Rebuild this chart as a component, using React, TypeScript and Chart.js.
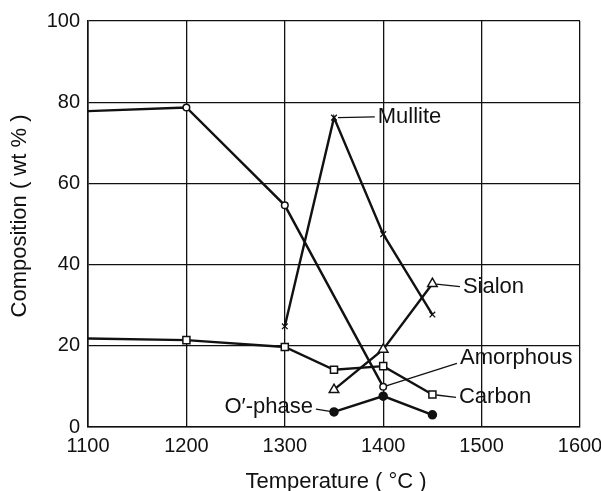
import { useEffect, useRef } from "react";
import { Chart, registerables } from "chart.js";

Chart.register(...registerables);

// ---- data ----
const amorphousTemps = [1100, 1200, 1300, 1400];
const amorphousValues = [77.8, 78.7, 54.6, 9.9];

const mulliteTemps = [1300, 1350, 1400, 1450];
const mulliteValues = [24.8, 76.2, 47.5, 27.7];

const sialonTemps = [1350, 1400, 1450];
const sialonValues = [9.2, 19.1, 35.3];

const carbonTemps = [1100, 1200, 1300, 1350, 1400, 1450];
const carbonValues = [21.8, 21.4, 19.7, 14.1, 15.0, 8.0];

const oPhaseTemps = [1350, 1400, 1450];
const oPhaseValues = [3.7, 7.6, 3.0];

const xTickValues = [1100, 1200, 1300, 1400, 1500, 1600];
const yTickValues = [0, 20, 40, 60, 80, 100];

const xTitle = "Temperature ( °C )";
const yTitle = "Composition ( wt % )";

const FONT = "'Liberation Sans', Arial, Helvetica, sans-serif";
const INK = "#111";

const toPoints = (xs: number[], ys: number[]) => xs.map((x, i) => ({ x, y: ys[i] }));

// label annotations: anchored on a data point of a dataset, text at data coords
const annotations = [
  { text: "Mullite", ds: 1, idx: 1, tx: 1394.5, ty: 76.4, side: "left", dy: 0 },
  { text: "Sialon", ds: 2, idx: 2, tx: 1481, ty: 34.6, side: "left", dy: 0 },
  { text: "Amorphous", ds: 0, idx: 3, tx: 1478, ty: 16.9, side: "left", dy: 5 },
  { text: "Carbon", ds: 3, idx: 5, tx: 1477, ty: 7.3, side: "left", dy: 0 },
  { text: "O\u2032-phase", ds: 4, idx: 0, tx: 1328.6, ty: 4.9, side: "right", dy: 2 },
];

const annotationPlugin = {
  id: "leaderLabels",
  afterDatasetsDraw(chart: any) {
    const { ctx, scales } = chart;
    const xs = scales.x;
    const ys = scales.y;
    ctx.save();
    ctx.font = `22px ${FONT}`;
    ctx.fillStyle = INK;
    ctx.strokeStyle = INK;
    ctx.lineWidth = 1.3;
    ctx.textBaseline = "middle";
    for (const a of annotations) {
      const el = chart.getDatasetMeta(a.ds).data[a.idx];
      const px = el.x;
      const py = el.y;
      const tx = xs.getPixelForValue(a.tx);
      const ty = ys.getPixelForValue(a.ty);
      const endX = a.side === "left" ? tx - 3 : tx + 3;
      const endY = ty + a.dy;
      const dx = endX - px;
      const dyy = endY - py;
      const len = Math.hypot(dx, dyy) || 1;
      const gap = 4;
      ctx.beginPath();
      ctx.moveTo(px + (dx / len) * gap, py + (dyy / len) * gap);
      ctx.lineTo(endX, endY);
      ctx.stroke();
      ctx.textAlign = a.side === "left" ? "left" : "right";
      ctx.fillText(a.text, tx, ty);
    }
    ctx.restore();
  },
};

const titlePlugin = {
  id: "axisTitles",
  afterDraw(chart: any) {
    const { ctx, chartArea } = chart;
    ctx.save();
    ctx.font = `22px ${FONT}`;
    ctx.fillStyle = INK;
    ctx.textAlign = "center";
    ctx.textBaseline = "middle";
    ctx.fillText(xTitle, (chartArea.left + chartArea.right) / 2 + 2, 482);
    ctx.translate(20, (chartArea.top + chartArea.bottom) / 2 - 8);
    ctx.rotate(-Math.PI / 2);
    ctx.fillText(yTitle, 0, 0);
    ctx.restore();
  },
};

const hideFirst = (r: number) => (c: any) => (c.dataIndex === 0 ? 0 : r);

export default function App() {
  const ref = useRef<HTMLCanvasElement | null>(null);

  useEffect(() => {
    if (!ref.current) return;
    const common = {
      borderColor: INK,
      borderWidth: 2.4,
      pointBorderColor: INK,
      pointBorderWidth: 1.5,
      showLine: true,
      tension: 0,
      fill: false,
    };
    const chart = new Chart(ref.current, {
      type: "scatter",
      data: {
        datasets: [
          {
            ...common,
            label: "Amorphous",
            data: toPoints(amorphousTemps, amorphousValues),
            pointStyle: "circle",
            pointRadius: hideFirst(3.3),
            pointBackgroundColor: "#fff",
          },
          {
            ...common,
            label: "Mullite",
            data: toPoints(mulliteTemps, mulliteValues),
            pointStyle: "crossRot",
            pointRadius: 4,
            pointBorderWidth: 1.3,
          },
          {
            ...common,
            label: "Sialon",
            data: toPoints(sialonTemps, sialonValues),
            pointStyle: "triangle",
            pointRadius: 5.5,
            pointBackgroundColor: "#fff",
          },
          {
            ...common,
            label: "Carbon",
            data: toPoints(carbonTemps, carbonValues),
            pointStyle: "rect",
            pointRadius: hideFirst(5),
            pointBackgroundColor: "#fff",
          },
          {
            ...common,
            label: "O'-phase",
            data: toPoints(oPhaseTemps, oPhaseValues),
            pointStyle: "circle",
            pointRadius: 4,
            pointBackgroundColor: INK,
          },
        ],
      } as any,
      options: {
        animation: false,
        responsive: false,
        events: [],
        layout: { padding: { top: 21, right: 21, left: 0, bottom: 0 } },
        plugins: {
          legend: { display: false },
          tooltip: { enabled: false },
        },
        scales: {
          x: {
            type: "linear",
            min: xTickValues[0],
            max: xTickValues[xTickValues.length - 1],
            afterFit: (s: any) => {
              s.height = 64;
              s.paddingLeft = 0;
              s.paddingRight = 0;
            },
            afterBuildTicks: (s: any) => {
              s.ticks = xTickValues.map((v) => ({ value: v }));
            },
            ticks: {
              color: INK,
              font: { family: FONT, size: 20 },
              padding: 7,
              maxRotation: 0,
              callback: (v: any) => String(v),
            },
            grid: { color: INK, lineWidth: 1.3, drawTicks: false },
            border: { color: INK, width: 1.6 },
          },
          y: {
            type: "linear",
            min: yTickValues[0],
            max: yTickValues[yTickValues.length - 1],
            afterFit: (s: any) => {
              s.width = 88;
              s.paddingTop = 0;
              s.paddingBottom = 0;
            },
            afterBuildTicks: (s: any) => {
              s.ticks = yTickValues.map((v) => ({ value: v }));
            },
            ticks: {
              color: INK,
              font: { family: FONT, size: 20 },
              padding: 8,
              callback: (v: any) => String(v),
            },
            grid: { color: INK, lineWidth: 1.3, drawTicks: false },
            border: { color: INK, width: 1.6 },
          },
        },
      } as any,
      plugins: [annotationPlugin, titlePlugin],
    });
    return () => chart.destroy();
  }, []);

  return (
    <div style={{ position: "absolute", left: 0, top: 0, width: 601, height: 491, background: "#fff" }}>
      <canvas ref={ref} width={601} height={491} />
    </div>
  );
}
